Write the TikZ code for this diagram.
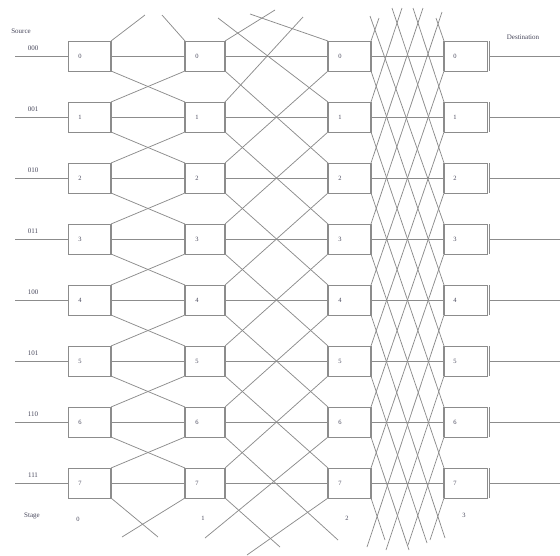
\documentclass[tikz,border=0pt]{standalone}
\usepackage{fontspec}
\setmainfont{Liberation Serif}
\definecolor{lg}{RGB}{140,140,140}
\definecolor{tx}{RGB}{70,70,90}
\begin{document}
\begin{tikzpicture}[x=1pt,y=-1pt,
  wire/.style={draw=lg, line width=0.75pt},
  swbox/.style={draw=lg, line width=0.75pt, rectangle, minimum height=30pt, inner sep=0pt, outer sep=0pt},
  bar/.style={draw=lg, line width=1.5pt},
  lbl/.style={text=tx, font=\fontsize{6.5}{7}\selectfont, inner sep=0pt},
  tlbl/.style={text=tx, font=\fontsize{7}{8}\selectfont, inner sep=0pt},
]
\useasboundingbox (0,0) rectangle (560,555);
% boxes of the four stages
\foreach \i/\bin in {0/000,1/001,2/010,3/011,4/100,5/101,6/110,7/111} {
  \pgfmathsetmacro\y{56+61*\i}
  \node[swbox, minimum width=43pt] (a\i) at (89.5,\y) {};
  \node[swbox, minimum width=40pt] (b\i) at (205,\y) {};
  \node[swbox, minimum width=43pt] (c\i) at (349.5,\y) {};
  \node[swbox, minimum width=43pt] (d\i) at (465.5,\y) {};
  \node[lbl] (la\i) at (80,\y) {\i};
  \node[lbl] (lb\i) at (197,\y) {\i};
  \node[lbl] (lc\i) at (340,\y) {\i};
  \node[lbl] (ld\i) at (455,\y) {\i};
  \node[tlbl] (bin\i) at (33,\y-8) {\bin};
  \coordinate (in\i) at (15,\y);
  \coordinate (out\i) at (560,\y);
  \draw[wire] (in\i) -- (a\i.west);
  \draw[wire] (a\i.east) -- (b\i.west);
  \draw[wire] (b\i.east) -- (c\i.west);
  \draw[wire] (c\i.east) -- (d\i.west);
  \draw[wire] ([xshift=2.5pt]d\i.east) -- (out\i);
  \draw[bar] (a\i.north east) -- (a\i.south east);
  \draw[bar] (b\i.north west) -- (b\i.south west);
  \draw[bar] (b\i.north east) -- (b\i.south east);
  \draw[bar] (c\i.north west) -- (c\i.south west);
  \draw[bar] (c\i.north east) -- (c\i.south east);
  \draw[bar] (d\i.north west) -- (d\i.south west);
  \draw[bar] ([xshift=2.5pt]d\i.north east) -- ([xshift=2.5pt]d\i.south east);
}
% stage 0: neighbours
\foreach \i [evaluate=\i as \j using int(\i+1)] in {0,...,6} {
  \draw[wire] (a\i.south east) -- (b\j.north west);
  \draw[wire] (a\j.north east) -- (b\i.south west);
}
% stage 1: distance 2
\foreach \i [evaluate=\i as \j using int(\i+2)] in {0,...,5} {
  \draw[wire] (b\i.south east) -- (c\j.north west);
  \draw[wire] (b\j.north east) -- (c\i.south west);
}
% stage 2: distance 4
\foreach \i [evaluate=\i as \j using int(\i+4)] in {0,...,3} {
  \draw[wire] (c\i.south east) -- (d\j.north west);
  \draw[wire] (c\j.north east) -- (d\i.south west);
}
% wrap-around ends, stage 0
\coordinate (w0a) at (145,15);
\coordinate (w0b) at (162,15);
\coordinate (w0c) at (158,537);
\coordinate (w0d) at (122,537);
\draw[wire] (a0.north east) -- (w0a);
\draw[wire] (b0.north west) -- (w0b);
\draw[wire] (a7.south east) -- (w0c);
\draw[wire] (b7.south west) -- (w0d);
% wrap-around ends, stage 1
\coordinate (w1a) at (275,10);
\coordinate (w1b) at (303,17);
\coordinate (w1c) at (250,14);
\coordinate (w1d) at (218,18);
\coordinate (w1e) at (338,540);
\coordinate (w1f) at (280,547);
\coordinate (w1g) at (205,538);
\coordinate (w1h) at (247,555);
\draw[wire] (b0.north east) -- (w1a);
\draw[wire] (b1.north east) -- (w1b);
\draw[wire] (c0.north west) -- (w1c);
\draw[wire] (c1.north west) -- (w1d);
\draw[wire] (b6.south east) -- (w1e);
\draw[wire] (b7.south east) -- (w1f);
\draw[wire] (c6.south west) -- (w1g);
\draw[wire] (c7.south west) -- (w1h);
% wrap-around ends, stage 2
\coordinate (w2a) at (379,18);
\coordinate (w2b) at (402,8);
\coordinate (w2c) at (423,8);
\coordinate (w2d) at (442,12);
\coordinate (w2e) at (436,18);
\coordinate (w2f) at (413,8);
\coordinate (w2g) at (392,8);
\coordinate (w2h) at (370,16);
\draw[wire] (c0.north east) -- (w2a);
\draw[wire] (c1.north east) -- (w2b);
\draw[wire] (c2.north east) -- (w2c);
\draw[wire] (c3.north east) -- (w2d);
\draw[wire] (d0.north west) -- (w2e);
\draw[wire] (d1.north west) -- (w2f);
\draw[wire] (d2.north west) -- (w2g);
\draw[wire] (d3.north west) -- (w2h);
\coordinate (w2i) at (445,538);
\coordinate (w2j) at (427,543);
\coordinate (w2k) at (409,550);
\coordinate (w2l) at (385,540);
\coordinate (w2m) at (367,547);
\coordinate (w2n) at (386,550);
\coordinate (w2o) at (408,545);
\coordinate (w2p) at (430,540);
\draw[wire] (c4.south east) -- (w2i);
\draw[wire] (c5.south east) -- (w2j);
\draw[wire] (c6.south east) -- (w2k);
\draw[wire] (c7.south east) -- (w2l);
\draw[wire] (d4.south west) -- (w2m);
\draw[wire] (d5.south west) -- (w2n);
\draw[wire] (d6.south west) -- (w2o);
\draw[wire] (d7.south west) -- (w2p);
% texts
\node[tlbl] (src) at (21,31) {Source};
\node[tlbl] (dst) at (523,37) {Destination};
\node[tlbl] (stg) at (32,516) {Stage};
\node[lbl] (s0) at (78,519) {0};
\node[lbl] (s1) at (203,518) {1};
\node[lbl] (s2) at (347,518) {2};
\node[lbl] (s3) at (464,515) {3};
\end{tikzpicture}
\end{document}
